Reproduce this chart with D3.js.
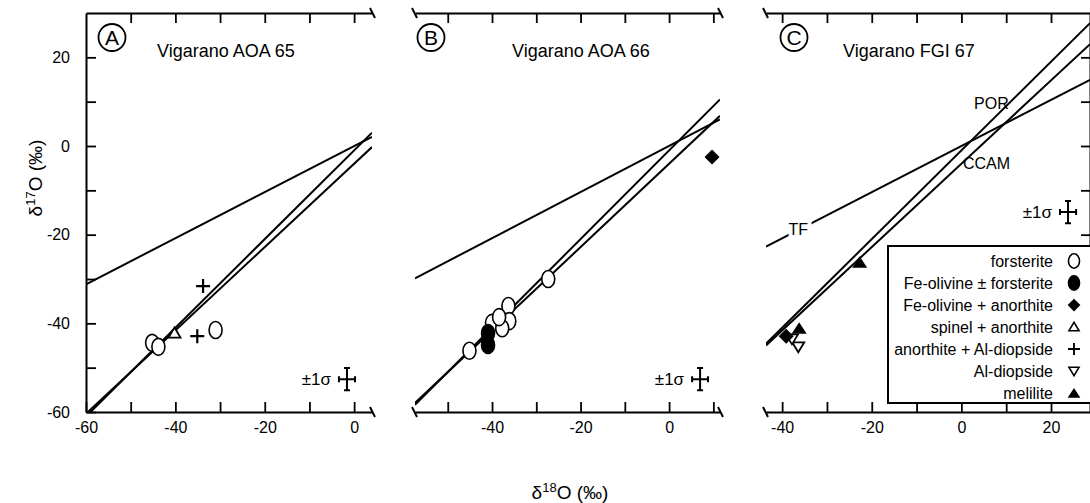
<!DOCTYPE html>
<html>
<head>
<meta charset="utf-8">
<script src="https://cdn.jsdelivr.net/npm/d3@7"></script>
<style>
  body { margin: 0; background: #fff; }
  text { font-family: "Liberation Sans", Arial, Helvetica, sans-serif; fill: #000; }
</style>
</head>
<body>
<div id="chart"></div>
<script>
// ---- data ----
// reference lines d17O = slope * d18O + intercept
var lineNames = ["TF", "POR", "CCAM"];
var lineSlopes = [0.52, 1.0, 0.94];
var lineIntercepts = [0, -1, -4];

var panelLetters = ["A", "B", "C"];
var panelTitles = ["Vigarano AOA 65", "Vigarano AOA 66", "Vigarano FGI 67"];
var panelXDomains = [[-60, 4.0], [-57.4, 11.5], [-43.6, 28.7]];
var xTickValues = [
    [-60, -50, -40, -30, -20, -10, 0],
    [-50, -40, -30, -20, -10, 0, 10],
    [-40, -30, -20, -10, 0, 10, 20]
];
var xTickLabels = [[-60, -40, -20, 0], [-40, -20, 0], [-40, -20, 0, 20]];
var yDomain = [-60, 30];
var yTickValues = [20, 10, 0, -10, -20, -30, -40, -50, -60];
var yTickLabels = [20, 0, -20, -40, -60];

// measured points, d18O / d17O
var pointsA = [
    {x: -33.8, y: -31.6, t: "anDi"},
    {x: -35.1, y: -42.9, t: "anDi"},
    {x: -31.0, y: -41.5, t: "fo"},
    {x: -45.2, y: -44.4, t: "fo"},
    {x: -43.8, y: -45.3, t: "fo"},
    {x: -40.2, y: -42.2, t: "spAn"}
];
var pointsB = [
    {x: -27.3, y: -30.0, t: "fo"},
    {x: -40.0, y: -39.9, t: "fo"},
    {x: -36.3, y: -36.1, t: "fo"},
    {x: -36.1, y: -39.5, t: "fo"},
    {x: -37.7, y: -41.1, t: "fo"},
    {x: -38.4, y: -38.6, t: "fo"},
    {x: -45.1, y: -46.2, t: "fo"},
    {x: -40.9, y: -42.2, t: "feOl"},
    {x: -40.9, y: -44.9, t: "feOl"},
    {x: 9.7, y: -2.5, t: "feAn"}
];
var pointsC = [
    {x: -22.7, y: -26.2, t: "mel"},
    {x: -36.2, y: -41.1, t: "mel"},
    {x: -36.4, y: -45.3, t: "di"},
    {x: -37.8, y: -43.5, t: "di"},
    {x: -39.1, y: -42.9, t: "feAn"}
];
var panelPoints = [pointsA, pointsB, pointsC];

// +-1 sigma error bar (centre and half widths)
var sigmaCentres = [{x: -1.6, y: -52.6}, {x: 7.0, y: -52.6}, {x: 23.8, y: -14.9}];
var sigmaHalf = {x: 1.8, y: 2.5};

// line labels in panel C (data coords)
var lineLabelPos = [{x: -36.4, y: -18.7}, {x: 6.7, y: 9.7}, {x: 5.6, y: -3.8}];

var legendNames = ["forsterite", "Fe-olivine \u00b1 forsterite", "Fe-olivine + anorthite",
    "spinel + anorthite", "anorthite + Al-diopside", "Al-diopside", "melilite"];
var legendTypes = ["fo", "feOl", "feAn", "spAn", "anDi", "di", "mel"];

// ---- layout ----
var svgWidth = 1090, svgHeight = 503;
var plotTop = 13, plotBottom = 412;
var panelRanges = [[86, 372], [415, 720], [766, 1090]];
var letterPos = [[112, 37.5], [431, 37.5], [794, 37.5]];
var titleX = [157, 512, 843];
var leftBreak = [false, true, true];
var rightBreak = [true, true, false];

var svg = d3.select("#chart").append("svg")
    .attr("width", svgWidth)
    .attr("height", svgHeight);

var yScale = d3.scaleLinear().domain(yDomain).range([plotBottom, plotTop]);

function drawSymbol(g, type, cx, cy, s) {
    s = s || 1;
    var sel;
    if (type == "fo" || type == "feOl") {
        sel = g.append("ellipse").attr("cx", cx).attr("cy", cy)
            .attr("rx", 6.5 * s).attr("ry", 8.5 * s)
            .attr("fill", type == "fo" ? "#fff" : "#000")
            .attr("stroke", "#000").attr("stroke-width", 1.6);
    } else if (type == "feAn") {
        sel = g.append("path")
            .attr("d", "M0,-7.5L7.5,0L0,7.5L-7.5,0Z")
            .attr("fill", "#000");
    } else if (type == "spAn") {
        sel = g.append("path")
            .attr("d", "M-6,4.5L6,4.5L0,-5.5Z")
            .attr("fill", "#fff").attr("stroke", "#000").attr("stroke-width", 1.8);
    } else if (type == "di") {
        sel = g.append("path")
            .attr("d", "M-6,-4.5L6,-4.5L0,5.5Z")
            .attr("fill", "#fff").attr("stroke", "#000").attr("stroke-width", 1.8);
    } else if (type == "mel") {
        sel = g.append("path")
            .attr("d", "M-7.5,5.5L7.5,5.5L0,-6Z")
            .attr("fill", "#000");
    } else if (type == "anDi") {
        sel = g.append("path")
            .attr("d", "M-7,0H7M0,-7V7")
            .attr("fill", "none").attr("stroke", "#000").attr("stroke-width", 2.2);
    }
    if (type != "fo" && type != "feOl") {
        sel.attr("transform", `translate(${cx},${cy}) scale(${s})`);
    }
}

function styleAxis(g) {
    g.selectAll("path.domain").attr("stroke-width", 2);
    g.selectAll(".tick line").attr("stroke-width", 1.8);
    g.selectAll("text").attr("font-size", 16)
        .attr("font-family", "'Liberation Sans', Arial, sans-serif");
}

panelTitles.forEach(function(title, i) {
    var xScale = d3.scaleLinear().domain(panelXDomains[i]).range(panelRanges[i]);
    var x0 = panelRanges[i][0], x1 = panelRanges[i][1];
    var panel = svg.append("g");

    svg.append("clipPath").attr("id", "clip" + i)
        .append("rect")
        .attr("x", x0).attr("y", plotTop)
        .attr("width", x1 - x0).attr("height", plotBottom - plotTop);

    // axes
    var bottomAxis = d3.axisBottom(xScale)
        .tickValues(xTickValues[i])
        .tickSize(-10).tickSizeOuter(0).tickPadding(10)
        .tickFormat(d => xTickLabels[i].indexOf(d) >= 0 ? String(d) : "");
    panel.append("g")
        .attr("transform", `translate(0,${plotBottom})`)
        .call(bottomAxis)
        .call(styleAxis);

    var topAxis = d3.axisTop(xScale)
        .tickValues(xTickValues[i].filter(d => d > panelXDomains[i][0] + 1))
        .tickSize(-10).tickSizeOuter(0).tickFormat("");
    panel.append("g")
        .attr("transform", `translate(0,${plotTop})`)
        .call(topAxis)
        .call(styleAxis);

    if (i == 0) {
        var leftAxis = d3.axisLeft(yScale)
            .tickValues(yTickValues)
            .tickSize(-10).tickSizeOuter(0).tickPadding(16)
            .tickFormat(d => yTickLabels.indexOf(d) >= 0 ? String(d) : "");
        panel.append("g")
            .attr("transform", `translate(${x0},0)`)
            .call(leftAxis)
            .call(styleAxis);
    }
    if (i == 2) {
        var rightAxis = d3.axisRight(yScale)
            .tickValues(yTickValues.filter(d => d > -60))
            .tickSize(-9).tickSizeOuter(0).tickFormat("");
        panel.append("g")
            .attr("transform", `translate(${x1},0)`)
            .call(rightAxis)
            .call(styleAxis);
    }

    // axis break marks
    [plotTop, plotBottom].forEach(function(yy) {
        if (leftBreak[i]) {
            panel.append("line").attr("x1", x0 - 3).attr("y1", yy - 5)
                .attr("x2", x0 + 2).attr("y2", yy + 5)
                .attr("stroke", "#000").attr("stroke-width", 2);
        }
        if (rightBreak[i]) {
            panel.append("line").attr("x1", x1 - 2).attr("y1", yy - 5)
                .attr("x2", x1 + 3).attr("y2", yy + 5)
                .attr("stroke", "#000").attr("stroke-width", 2);
        }
    });

    // reference lines
    var lineGroup = panel.append("g").attr("clip-path", `url(#clip${i})`);
    lineNames.forEach(function(name, k) {
        var xs = panelXDomains[i];
        lineGroup.append("line")
            .attr("x1", xScale(xs[0]))
            .attr("y1", yScale(lineSlopes[k] * xs[0] + lineIntercepts[k]))
            .attr("x2", xScale(xs[1]))
            .attr("y2", yScale(lineSlopes[k] * xs[1] + lineIntercepts[k]))
            .attr("stroke", "#000")
            .attr("stroke-width", 2);
    });

    if (i == 2) {
        lineNames.forEach(function(name, k) {
            panel.append("text")
                .attr("x", xScale(lineLabelPos[k].x))
                .attr("y", yScale(lineLabelPos[k].y))
                .attr("dy", "0.36em")
                .attr("text-anchor", "middle")
                .attr("font-size", 16)
                .attr("stroke", name == "TF" ? "#fff" : "none")
                .attr("stroke-width", 8)
                .attr("paint-order", "stroke")
                .text(name);
        });
    }

    // points: open markers first, filled on top
    var pts = panelPoints[i];
    pts.forEach(function(p) {
        drawSymbol(panel, p.t, xScale(p.x), yScale(p.y));
    });

    // +-1 sigma
    var sc = sigmaCentres[i];
    var cx = xScale(sc.x), cy = yScale(sc.y);
    var hx = xScale(sc.x + sigmaHalf.x) - cx;
    var hy = cy - yScale(sc.y + sigmaHalf.y);
    panel.append("path")
        .attr("d", `M${cx - hx},${cy}H${cx + hx}M${cx - hx},${cy - 3}V${cy + 3}M${cx + hx},${cy - 3}V${cy + 3}` +
            `M${cx},${cy - hy}V${cy + hy}M${cx - 3},${cy - hy}H${cx + 3}M${cx - 3},${cy + hy}H${cx + 3}`)
        .attr("fill", "none").attr("stroke", "#000").attr("stroke-width", 2);
    panel.append("text")
        .attr("x", cx - 16).attr("y", cy + 6)
        .attr("text-anchor", "end")
        .attr("font-size", 17)
        .text("\u00b11\u03c3");

    // circled letter and title
    panel.append("circle")
        .attr("cx", letterPos[i][0]).attr("cy", letterPos[i][1]).attr("r", 13.5)
        .attr("fill", "none").attr("stroke", "#000").attr("stroke-width", 1.8);
    panel.append("text")
        .attr("x", letterPos[i][0]).attr("y", letterPos[i][1] + 7.5)
        .attr("text-anchor", "middle")
        .attr("font-size", 21)
        .text(panelLetters[i]);
    panel.append("text")
        .attr("x", titleX[i]).attr("y", 57)
        .attr("font-size", 18)
        .text(title);
});

// legend (panel C)
var legend = svg.append("g");
legend.append("rect")
    .attr("x", 888).attr("y", 246)
    .attr("width", 210).attr("height", 157)
    .attr("fill", "#fff").attr("stroke", "#000").attr("stroke-width", 2);
legendNames.forEach(function(name, k) {
    var yy = 261 + k * 22;
    legend.append("text")
        .attr("x", 1053).attr("y", yy)
        .attr("dy", "0.36em")
        .attr("text-anchor", "end")
        .attr("font-size", 16)
        .text(name);
    drawSymbol(legend, legendTypes[k], 1074, yy, 0.85);
});

// axis titles
var xLabel = svg.append("text")
    .attr("x", 570).attr("y", 499)
    .attr("text-anchor", "middle")
    .attr("font-size", 19);
xLabel.append("tspan").text("\u03b4");
xLabel.append("tspan").attr("baseline-shift", "super").attr("font-size", 13).text("18");
xLabel.append("tspan").text("O (\u2030)");

var yLabel = svg.append("text")
    .attr("transform", "translate(42,178) rotate(-90)")
    .attr("text-anchor", "middle")
    .attr("font-size", 19);
yLabel.append("tspan").text("\u03b4");
yLabel.append("tspan").attr("baseline-shift", "super").attr("font-size", 13).text("17");
yLabel.append("tspan").text("O (\u2030)");
</script>
</body>
</html>
